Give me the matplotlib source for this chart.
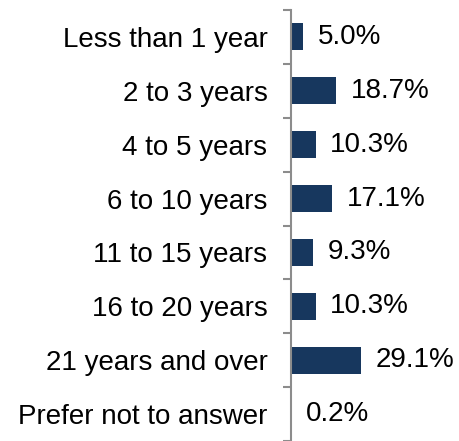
import numpy as np
import matplotlib
matplotlib.use("Agg")
import matplotlib.pyplot as plt

plt.rcParams['font.family'] = ['Liberation Sans', 'DejaVu Sans']

categories = ["Less than 1 year", "2 to 3 years", "4 to 5 years", "6 to 10 years",
              "11 to 15 years", "16 to 20 years", "21 years and over",
              "Prefer not to answer"]
values = [5.0, 18.7, 10.3, 17.1, 9.3, 10.3, 29.1, 0.2]
value_labels = ["5.0%", "18.7%", "10.3%", "17.1%", "9.3%", "10.3%", "29.1%", "0.2%"]

BAR_COLOR = "#17375E"
AXIS_COLOR = "#8C8C8C"
FS = 20

fig = plt.figure(figsize=(4.6, 4.41), dpi=100)
ax = fig.add_axes([291 / 460, 0.0, 164 / 460, 431 / 441])

y = np.arange(len(categories))
ax.barh(y, values, height=0.5, color=BAR_COLOR)

for yi, v, lab in zip(y, values, value_labels):
    ax.annotate(lab, xy=(v, yi), xytext=(10.5, 0), textcoords="offset points",
                ha="left", va="center", fontsize=FS, color="#000000")

ax.set_xlim(0, 164 / 2.4)
ax.set_ylim(len(categories) - 0.5, -0.5)

# boundary ticks (major, no labels) and category labels (minor, no tick marks)
ax.set_yticks(np.arange(len(categories) + 1) - 0.5)
ax.set_yticklabels([])
ax.set_yticks(y, minor=True)
ax.set_yticklabels(categories, minor=True, fontsize=FS)
ax.tick_params(axis="y", which="major", length=6, width=1.5, color=AXIS_COLOR, direction="out")
ax.tick_params(axis="y", which="minor", length=0, pad=17)
ax.set_xticks([])

for side in ["top", "right", "bottom"]:
    ax.spines[side].set_visible(False)
ax.spines["left"].set_color(AXIS_COLOR)
ax.spines["left"].set_linewidth(1.5)

fig.savefig("out.png", dpi=100)
